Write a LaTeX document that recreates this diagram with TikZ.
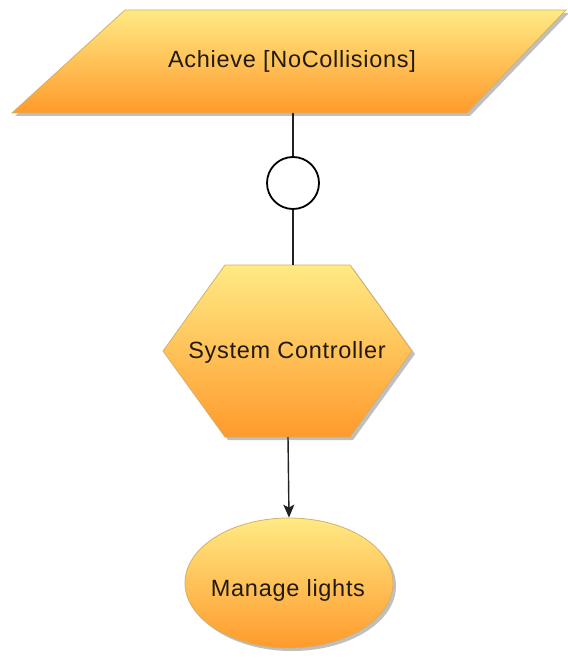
\documentclass[tikz,border=0pt]{standalone}
\usepackage{fontspec}
\setmainfont{Liberation Sans}[LetterSpace=3]
\usetikzlibrary{shapes.geometric,arrows.meta,shadows}

\definecolor{fillTop}{HTML}{FFEA84}
\definecolor{fillBot}{HTML}{FF9A2C}
\definecolor{edge}{HTML}{D4B068}
\definecolor{ink}{HTML}{221A0E}
\definecolor{wire}{HTML}{222222}

\begin{document}
\begin{tikzpicture}[x=1pt,y=-1pt,
  orangefill/.style={top color=fillTop, bottom color=fillBot, draw=edge, line width=0.8pt,
    drop shadow={shadow xshift=3pt, shadow yshift=-3pt, fill=black, opacity=0.25}},
  labeltext/.style={font=\fontsize{23.5}{28}\selectfont, text=ink, inner sep=0pt, anchor=base},
  wire/.style={draw=wire, line width=1.4pt},
]
\useasboundingbox (0,0) rectangle (567,660);

% goal parallelogram
\path[orangefill] (125,10) -- (566,10) -- (467,113) -- (12,113) -- cycle;
\node[labeltext] (goal) at (292,68) {Achieve [NoCollisions]};
\coordinate (goal-s) at (293,113);

% agent hexagon
\path[orangefill] (225,265) -- (350,265) -- (412,351) -- (350,437) -- (225,437) -- (163,351) -- cycle;
\node[labeltext] (agent) at (287,358) {System Controller};
\coordinate (agent-n) at (293,265);
\coordinate (agent-s) at (288,437);

% requirement ellipse
\node[ellipse, orangefill, minimum width=208pt, minimum height=130pt, inner sep=0pt] (req) at (289,583) {};
\node[labeltext] (reqtext) at (288,596) {Manage lights};

% responsibility link with circle
\node[circle, draw=black, line width=1.8pt, minimum size=52pt, inner sep=0pt, fill=white] (ref) at (293,183) {};
\draw[wire] (goal-s) -- (ref.north);
\draw[wire] (ref.south) -- (agent-n);

% operationalisation arrow
\draw[wire, -{Stealth[length=13pt,width=11pt,inset=3pt]}] (agent-s) -- (req.north);
\end{tikzpicture}
\end{document}
